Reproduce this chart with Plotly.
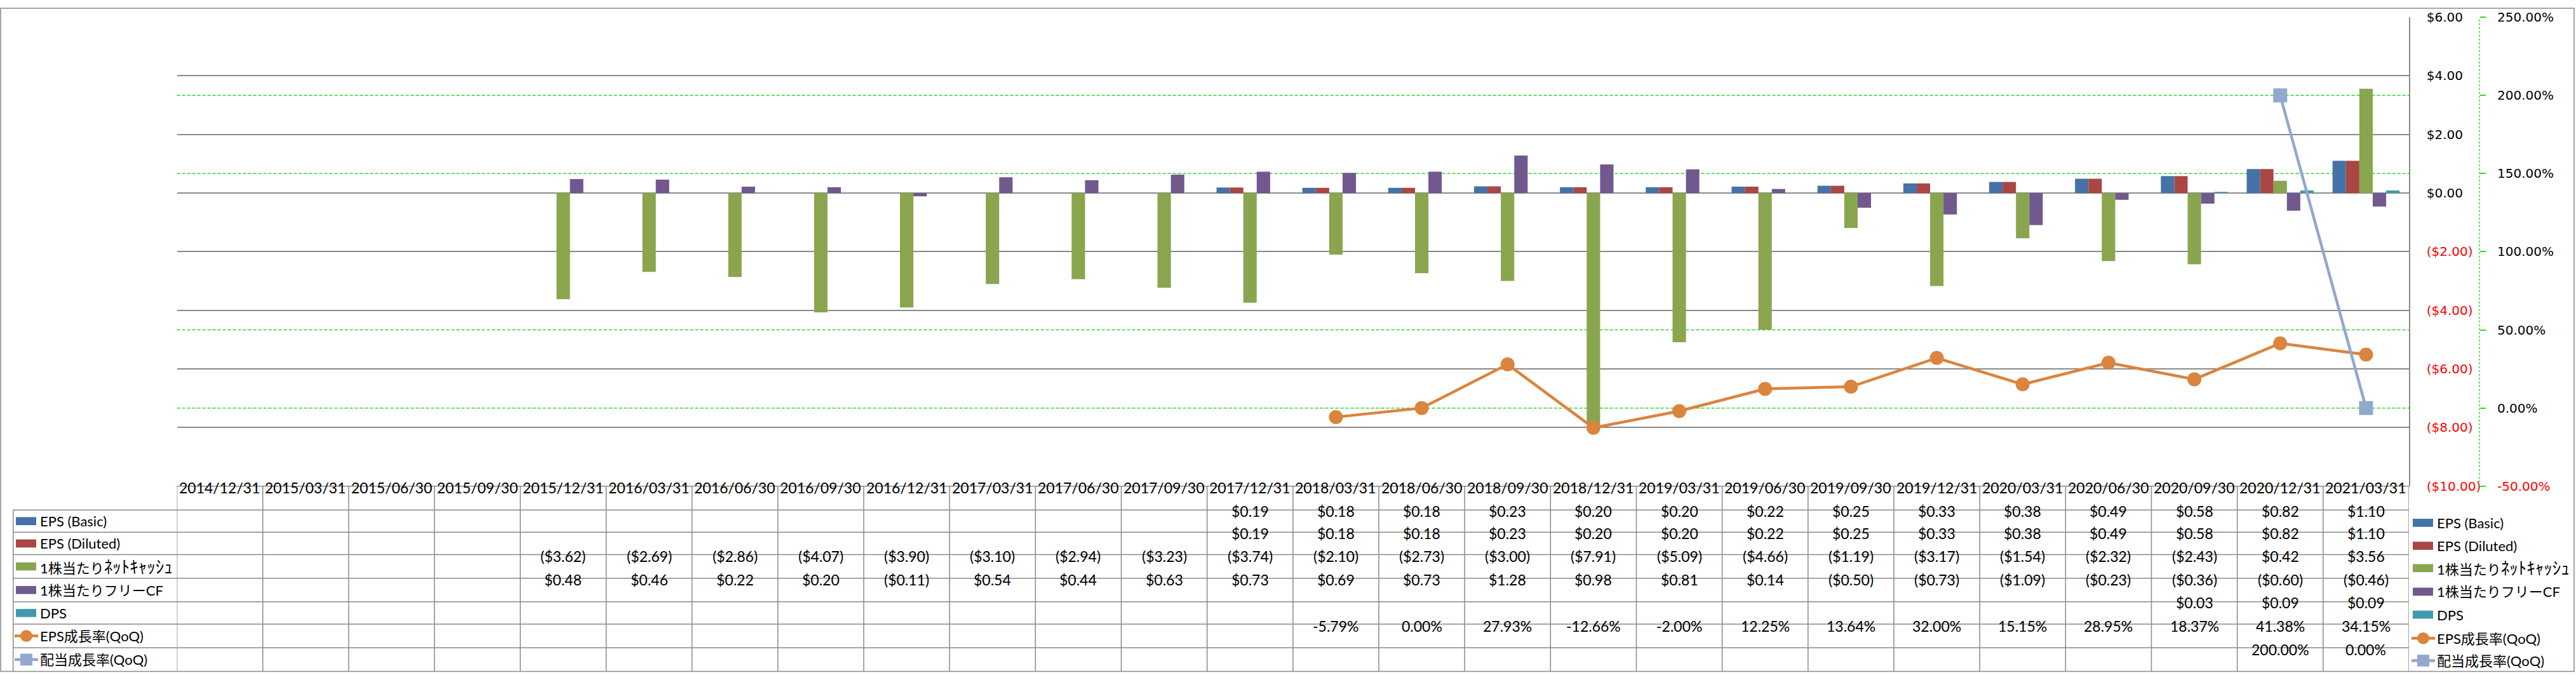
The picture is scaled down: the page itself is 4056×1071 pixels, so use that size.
import plotly.graph_objects as go

# ---------------- data ----------------
categories = ["2014/12/31", "2015/03/31", "2015/06/30", "2015/09/30", "2015/12/31",
              "2016/03/31", "2016/06/30", "2016/09/30", "2016/12/31", "2017/03/31",
              "2017/06/30", "2017/09/30", "2017/12/31", "2018/03/31", "2018/06/30",
              "2018/09/30", "2018/12/31", "2019/03/31", "2019/06/30", "2019/09/30",
              "2019/12/31", "2020/03/31", "2020/06/30", "2020/09/30", "2020/12/31",
              "2021/03/31"]

eps_basic = [None, None, None, None, None, None, None, None, None, None, None, None,
             0.19, 0.18, 0.18, 0.23, 0.20, 0.20, 0.22, 0.25, 0.33, 0.38, 0.49, 0.58, 0.82, 1.10]
eps_diluted = [None, None, None, None, None, None, None, None, None, None, None, None,
               0.19, 0.18, 0.18, 0.23, 0.20, 0.20, 0.22, 0.25, 0.33, 0.38, 0.49, 0.58, 0.82, 1.10]
net_cash = [None, None, None, None, -3.62, -2.69, -2.86, -4.07, -3.90, -3.10, -2.94, -3.23,
            -3.74, -2.10, -2.73, -3.00, -7.91, -5.09, -4.66, -1.19, -3.17, -1.54, -2.32, -2.43,
            0.42, 3.56]
free_cf = [None, None, None, None, 0.48, 0.46, 0.22, 0.20, -0.11, 0.54, 0.44, 0.63,
           0.73, 0.69, 0.73, 1.28, 0.98, 0.81, 0.14, -0.50, -0.73, -1.09, -0.23, -0.36,
           -0.60, -0.46]
dps = [None, None, None, None, None, None, None, None, None, None, None, None,
       None, None, None, None, None, None, None, None, None, None, None, 0.03, 0.09, 0.09]
eps_growth = [None, None, None, None, None, None, None, None, None, None, None, None,
              None, -5.79, 0.00, 27.93, -12.66, -2.00, 12.25, 13.64, 32.00, 15.15, 28.95,
              18.37, 41.38, 34.15]
div_growth = [None, None, None, None, None, None, None, None, None, None, None, None,
              None, None, None, None, None, None, None, None, None, None, None, None,
              200.00, 0.00]

series_names = ["EPS (Basic)", "EPS (Diluted)", "1株当たりﾈｯﾄｷｬｯｼｭ", "1株当たりフリーCF",
                "DPS", "EPS成長率(QoQ)", "配当成長率(QoQ)"]
usd_ticks = [-10, -8, -6, -4, -2, 0, 2, 4, 6]
pct_ticks = [-50, 0, 50, 100, 150, 200, 250]
pct_grid = [0, 50, 150, 200]   # dotted % gridlines that are not hidden by the $ grid

# ---------------- styles ----------------
C_BLUE, C_RED, C_GREEN, C_PURPLE, C_TEAL = "#4572A7", "#AA4643", "#89A54E", "#71588F", "#4198AF"
C_ORANGE, C_LBLUE = "#DB843D", "#92A8CD"
GRID = "#8a8a8a"
LIME = "#22e022"
TXT_FONT = "Lato, 'Noto Sans CJK JP', sans-serif"
AX_FONT = "Verdana, 'DejaVu Sans', sans-serif"

W, H = 4056, 1071
PL, PR, PT, PB = 278.6, 3793.0, 15.5, 771.0
Y2X = 3904.0


def px(x):
    return x / W


def py(y):
    return 1 - y / H


def money(v):
    return f"${v:.2f}" if v >= 0 else f"(${-v:.2f})"


def pct(v):
    return f"{v:.2f}%"


def red(s):
    return f"<span style='color:#ff0000'>{s}</span>"


def label_html(name):
    # half-width katakana are rendered a bit larger so they keep the reference's glyph height
    out = ""
    for ch in name:
        if "\uff61" <= ch <= "\uff9f":
            out += f"<span style='font-size:27px'>{ch}</span>"
        else:
            out += ch
    return out


fig = go.Figure()

bar_series = [(eps_basic, C_BLUE), (eps_diluted, C_RED), (net_cash, C_GREEN),
              (free_cf, C_PURPLE), (dps, C_TEAL)]
for (vals, col), name in zip(bar_series, series_names[:5]):
    fig.add_trace(go.Bar(x=categories, y=vals, name=name, marker=dict(color=col, line_width=0),
                         yaxis="y", showlegend=False))

fig.add_trace(go.Scatter(x=categories, y=eps_growth, name=series_names[5], yaxis="y2",
                         mode="lines+markers", line=dict(color=C_ORANGE, width=4.5),
                         marker=dict(symbol="circle", size=22, color=C_ORANGE),
                         showlegend=False))
fig.add_trace(go.Scatter(x=categories, y=div_growth, name=series_names[6], yaxis="y2",
                         mode="lines+markers", line=dict(color=C_LBLUE, width=4.5),
                         marker=dict(symbol="square", size=22, color=C_LBLUE),
                         showlegend=False))

usd_text = [money(v) if v >= 0 else red(money(v)) for v in usd_ticks]
pct_text = [pct(v) if v >= 0 else red(pct(v)) for v in pct_ticks]

shapes = []
annotations = []

# dotted % gridlines
for v in pct_grid:
    shapes.append(dict(type="line", xref="paper", yref="y2", x0=px(PL), x1=px(PR), y0=v, y1=v,
                       layer="below", line=dict(color=LIME, width=1.5, dash="5px,3px")))

# ---------------- data table ----------------
row_edges = [809.3, 845.3, 881.3, 919.3, 957.3, 993.3, 1031.3, 1069.5]
row_centers = [(row_edges[i] + row_edges[i + 1]) / 2 for i in range(7)]
header_c = (PB + row_edges[0]) / 2
TFONT = dict(family=TXT_FONT, size=23, color="black")

for c in categories:
    annotations.append(dict(x=c, xref="x", y=py(header_c), yref="paper", text=c,
                            showarrow=False, font=TFONT))

table_rows = [(eps_basic, money), (eps_diluted, money), (net_cash, money), (free_cf, money),
              (dps, money), (eps_growth, pct), (div_growth, pct)]
for r, (vals, f) in enumerate(table_rows):
    for c, v in zip(categories, vals):
        if v is None:
            continue
        annotations.append(dict(x=c, xref="x", y=py(row_centers[r]), yref="paper", text=f(v),
                                showarrow=False, font=TFONT))

LINEC = dict(color="#8a8a8a", width=1.5)
for y in row_edges[:-1]:
    shapes.append(dict(type="line", xref="paper", yref="paper", x0=px(20.7), x1=px(PR),
                       y0=py(y), y1=py(y), line=LINEC))
shapes.append(dict(type="line", xref="paper", yref="paper", x0=px(PL), x1=px(PR),
                   y0=py(PB), y1=py(PB), line=LINEC))
for i in range(len(categories) + 1):
    shapes.append(dict(type="line", xref="x", yref="paper", x0=i - 0.5, x1=i - 0.5,
                       y0=py(PB), y1=py(row_edges[-1]), line=LINEC))
shapes.append(dict(type="line", xref="paper", yref="paper", x0=px(20.7), x1=px(20.7),
                   y0=py(row_edges[0]), y1=py(row_edges[-1]), line=LINEC))

# ---------------- legend keys (in table and at the right) ----------------
key_colors = [C_BLUE, C_RED, C_GREEN, C_PURPLE, C_TEAL, C_ORANGE, C_LBLUE]
right_centers = [830, 867, 903, 941, 978, 1016, 1052]


def legend_key(x0, cy, k):
    col = key_colors[k]
    if k < 5:
        shapes.append(dict(type="rect", xref="paper", yref="paper", x0=px(x0), x1=px(x0 + 32),
                           y0=py(cy - 6.5), y1=py(cy + 6.5), fillcolor=col, line_width=0))
    else:
        shapes.append(dict(type="line", xref="paper", yref="paper", x0=px(x0 - 2),
                           x1=px(x0 + 35), y0=py(cy), y1=py(cy),
                           line=dict(color=col, width=4.5)))
        mx = x0 + 16.5
        shapes.append(dict(type="circle" if k == 5 else "rect", xref="paper", yref="paper",
                           x0=px(mx - 9.5), x1=px(mx + 9.5), y0=py(cy - 9.5), y1=py(cy + 9.5),
                           fillcolor=col, line_width=0))


LFONT = dict(family=TXT_FONT, size=22, color="black")
for k, name in enumerate(series_names):
    legend_key(25, row_centers[k], k)
    annotations.append(dict(x=px(61), xref="paper", y=py(row_centers[k]), yref="paper",
                            text=label_html(name), showarrow=False, xanchor="left",
                            yanchor="middle", font=LFONT))
    legend_key(3799, right_centers[k], k)
    annotations.append(dict(x=px(3835), xref="paper", y=py(right_centers[k]), yref="paper",
                            text=label_html(name), showarrow=False, xanchor="left",
                            yanchor="middle", font=LFONT))

# secondary axis dotted line
shapes.append(dict(type="line", xref="paper", yref="paper", x0=px(Y2X), x1=px(Y2X),
                   y0=py(PB), y1=py(PT), line=dict(color=LIME, width=1.5, dash="dot")))
# chart border
shapes.append(dict(type="rect", xref="paper", yref="paper", x0=px(1), x1=px(4053),
                   y0=py(1), y1=py(1069.5), line=dict(color="#8a8a8a", width=1.5)))

fig.update_layout(
    width=W, height=H, autosize=False,
    margin=dict(l=0, r=0, t=0, b=0, pad=0),
    paper_bgcolor="white", plot_bgcolor="white",
    barmode="group", bargap=0.22, bargroupgap=0,
    showlegend=False,
    xaxis=dict(type="category", domain=[px(PL), px(PR)], range=[-0.5, len(categories) - 0.5],
               showticklabels=False, showgrid=False, zeroline=False, showline=False,
               ticks=""),
    yaxis=dict(domain=[py(PB), py(PT)], range=[-10, 6], tickvals=usd_ticks, ticktext=usd_text,
               side="right", anchor="x", showgrid=True, gridcolor=GRID, gridwidth=1.5,
               zeroline=False, showline=True, linecolor=GRID, linewidth=1.5, ticks="",
               ticklabelstandoff=22,
               tickfont=dict(family=AX_FONT, size=20, color="black")),
    yaxis2=dict(overlaying="y", side="right", anchor="free", position=px(Y2X),
                range=[-50, 250], tickvals=pct_ticks, ticktext=pct_text,
                showgrid=False, zeroline=False, showline=False, ticks="outside", ticklen=9,
                tickcolor=LIME, tickwidth=1.5, ticklabelstandoff=14,
                tickfont=dict(family=AX_FONT, size=20, color="black")),
    shapes=shapes,
    annotations=annotations,
)

fig.write_html("out.html")
